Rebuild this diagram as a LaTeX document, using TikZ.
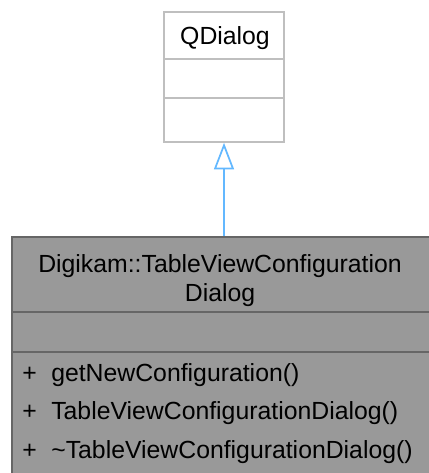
\documentclass[tikz,border=0pt]{standalone}
\usepackage{fontspec}
\setmainfont{Liberation Sans}
\usetikzlibrary{arrows.meta,positioning}
\definecolor{basegrey}{HTML}{BFBFBF}
\definecolor{maingrey}{HTML}{666666}
\definecolor{mainfill}{HTML}{999999}
\definecolor{arrowblue}{HTML}{63B8FF}

\begin{document}
\begin{tikzpicture}[
    x=0.75pt, y=-0.75pt, % one unit is one pixel, y going down
    basebox/.style={rectangle, draw=basegrey, fill=white, line width=1.2pt, inner sep=0pt, minimum width=90pt, minimum height=97.5pt},
    mainbox/.style={rectangle, draw=maingrey, fill=mainfill, line width=1.5pt, inner sep=0pt, minimum width=313.5pt, minimum height=180pt},
    txt/.style={font=\fontsize{18.6}{21.75}\selectfont, inner sep=0pt},
    member/.style={txt, anchor=base west},
    inherit/.style={-{Triangle[open, width=15pt, length=20pt]}, draw=arrowblue, line width=1.3pt}
]
    \useasboundingbox (0,0) rectangle (428,473);

    % Nodes
    \node[basebox] (qdialog) at (224,77) {};
    \node[txt, anchor=base] (qdialogname) at (225,45) {QDialog};
    \draw[basegrey, line width=1.2pt] (qdialog.west |- 0,59) -- (qdialog.east |- 0,59);
    \draw[basegrey, line width=1.2pt] (qdialog.west |- 0,98) -- (qdialog.east |- 0,98);

    \node[mainbox] (main) at (221,357) {};
    % base is the last line here
    \node[txt, anchor=base, align=center] (mainname) at (220,301) {Digikam::TableViewConfiguration\\Dialog};
    \draw[maingrey, line width=1.5pt] (main.west |- 0,312) -- (main.east |- 0,312);
    \draw[maingrey, line width=1.5pt] (main.west |- 0,352) -- (main.east |- 0,352);

    \foreach \name/\y [count=\i] in {getNewConfiguration()/381, TableViewConfigurationDialog()/419.5, \textasciitilde TableViewConfigurationDialog()/458} {
        \node[member] (plus\i) at (22,\y) {+};
        \node[member] (op\i) at (51,\y) {\name};
    }

    % Connections
    \draw[inherit] (main.north -| qdialog.south) -- (qdialog.south);
\end{tikzpicture}
\end{document}
